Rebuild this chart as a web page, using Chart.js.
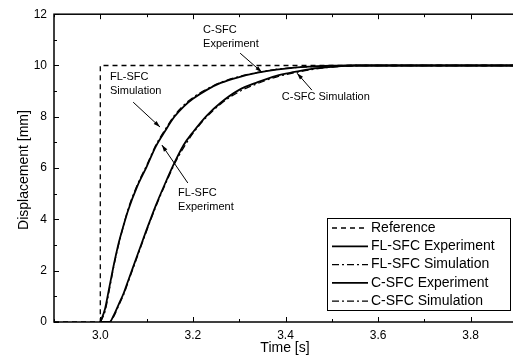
<!DOCTYPE html>
<html>
<head>
<meta charset="utf-8">
<script src="https://cdn.jsdelivr.net/npm/chart.js@4"></script>
<style>
  html, body { margin: 0; padding: 0; background: #fff; overflow: hidden; }
  #wrap { width: 518px; height: 358px; }
</style>
</head>
<body>
<div id="wrap"><canvas id="chart" width="518" height="358"></canvas></div>
<script>
// values
const refTime = [2.9, 3.0, 3.0, 3.9];
const refValues = [0, 0, 10, 10];

const time = [3.00, 3.01, 3.02, 3.03, 3.04, 3.05, 3.06, 3.08, 3.10, 3.12, 3.14, 3.16, 3.18, 3.20,
              3.23, 3.26, 3.30, 3.34, 3.38, 3.42, 3.46, 3.50, 3.55, 3.60, 3.70, 3.80, 3.90];
const flExperiment = [0, 0.5, 1.4, 2.3, 3.1, 3.75, 4.35, 5.3, 6.05, 6.85, 7.45, 8.0, 8.4, 8.7,
                      9.05, 9.32, 9.55, 9.72, 9.84, 9.92, 9.96, 9.99, 10, 10, 10, 10, 10];
const flSimulation = [0, 0.4, 1.3, 2.25, 3.05, 3.75, 4.4, 5.35, 6.1, 6.9, 7.5, 8.05, 8.45, 8.75,
                      9.08, 9.34, 9.57, 9.73, 9.85, 9.92, 9.96, 9.99, 10, 10, 10, 10, 10];
const cExperiment = [0, 0, 0, 0.3, 0.7, 1.1, 1.6, 2.6, 3.6, 4.55, 5.4, 6.2, 6.9, 7.4,
                     8.05, 8.55, 9.05, 9.35, 9.6, 9.75, 9.88, 9.95, 10, 10, 10, 10, 10];
const cSimulation = [0, 0, 0, 0.25, 0.65, 1.05, 1.55, 2.55, 3.55, 4.5, 5.35, 6.15, 6.8, 7.35,
                     8.0, 8.5, 8.98, 9.3, 9.55, 9.72, 9.85, 9.94, 9.99, 10, 10, 10, 10];

const xTicks = [3.0, 3.2, 3.4, 3.6, 3.8];
const xMinor = [2.9, 3.1, 3.3, 3.5, 3.7, 3.9];
const yTicks = [0, 2, 4, 6, 8, 10, 12];
const yMinor = [1, 3, 5, 7, 9, 11];

const labels = ['Reference', 'FL-SFC Experiment', 'FL-SFC Simulation', 'C-SFC Experiment', 'C-SFC Simulation'];

// callouts: text lines at [t, y], arrow from -> to
const callouts = [
  { lines: ['C-SFC', 'Experiment'], at: [3.222, 11.38], from: [3.302, 10.48], to: [3.349, 9.74] },
  { lines: ['FL-SFC', 'Simulation'], at: [3.021, 9.55], from: [3.071, 8.57], to: [3.129, 7.6] },
  { lines: ['C-SFC Simulation'], at: [3.392, 8.77], from: [3.457, 9.04], to: [3.425, 9.70] },
  { lines: ['FL-SFC', 'Experiment'], at: [3.168, 5.03], from: [3.189, 5.42], to: [3.133, 6.9] }
];

const FONT = '"Liberation Sans", Arial, sans-serif';
const dashRef = [5, 4];
const dashSim = [7, 3, 2, 3];

function pts(xs, ys) {
  return xs.map((x, i) => ({ x: x, y: ys[i] }));
}

const seriesStyle = [
  { data: pts(refTime, refValues), dash: dashRef, width: 1.3, tension: 0 },
  { data: pts(time, flExperiment), dash: [], width: 1.8 },
  { data: pts(time, flSimulation), dash: dashSim, width: 1.3 },
  { data: pts(time, cExperiment), dash: [], width: 1.8 },
  { data: pts(time, cSimulation), dash: dashSim, width: 1.3 }
];

const datasets = seriesStyle.map((s, i) => ({
  label: labels[i],
  data: s.data,
  borderColor: '#000',
  borderWidth: s.width,
  borderDash: s.dash,
  pointRadius: 0,
  fill: false,
  cubicInterpolationMode: i === 0 ? 'default' : 'monotone',
  tension: 0
}));

const decorations = {
  id: 'decorations',
  afterDraw(chart) {
    const ctx = chart.ctx;
    const xs = chart.scales.x, ys = chart.scales.y;
    const a = chart.chartArea;
    ctx.save();

    // frame
    ctx.strokeStyle = '#000';
    ctx.lineWidth = 1.5;
    ctx.setLineDash([]);
    ctx.strokeRect(a.left, a.top, a.right - a.left, a.bottom - a.top);

    // inward ticks
    ctx.lineWidth = 1;
    ctx.beginPath();
    xTicks.forEach(v => {
      const px = Math.round(xs.getPixelForValue(v)) + 0.5;
      ctx.moveTo(px, a.bottom); ctx.lineTo(px, a.bottom - 5);
      ctx.moveTo(px, a.top); ctx.lineTo(px, a.top + 5);
    });
    xMinor.forEach(v => {
      const px = Math.round(xs.getPixelForValue(v)) + 0.5;
      ctx.moveTo(px, a.bottom); ctx.lineTo(px, a.bottom - 3);
      ctx.moveTo(px, a.top); ctx.lineTo(px, a.top + 3);
    });
    yTicks.forEach(v => {
      const py = Math.round(ys.getPixelForValue(v)) + 0.5;
      ctx.moveTo(a.left, py); ctx.lineTo(a.left + 5, py);
    });
    yMinor.forEach(v => {
      const py = Math.round(ys.getPixelForValue(v)) + 0.5;
      ctx.moveTo(a.left, py); ctx.lineTo(a.left + 3, py);
    });
    ctx.stroke();

    // axis titles
    ctx.fillStyle = '#000';
    ctx.font = '14px ' + FONT;
    ctx.textAlign = 'center';
    ctx.textBaseline = 'middle';
    ctx.fillText('Time [s]', 285, 348);
    ctx.save();
    ctx.translate(24, 170);
    ctx.rotate(-Math.PI / 2);
    ctx.fillText('Displacement [mm]', 0, 0);
    ctx.restore();

    // callouts
    ctx.font = '11px ' + FONT;
    ctx.textAlign = 'left';
    callouts.forEach(c => {
      const tx = xs.getPixelForValue(c.at[0]);
      const ty = ys.getPixelForValue(c.at[1]);
      c.lines.forEach((ln, k) => ctx.fillText(ln, tx, ty + k * 14));
      const x1 = xs.getPixelForValue(c.from[0]), y1 = ys.getPixelForValue(c.from[1]);
      const x2 = xs.getPixelForValue(c.to[0]), y2 = ys.getPixelForValue(c.to[1]);
      ctx.lineWidth = 1;
      ctx.beginPath();
      ctx.moveTo(x1, y1); ctx.lineTo(x2, y2);
      ctx.stroke();
      const ang = Math.atan2(y2 - y1, x2 - x1);
      ctx.beginPath();
      ctx.moveTo(x2, y2);
      ctx.lineTo(x2 - 7 * Math.cos(ang - 0.3), y2 - 7 * Math.sin(ang - 0.3));
      ctx.lineTo(x2 - 7 * Math.cos(ang + 0.3), y2 - 7 * Math.sin(ang + 0.3));
      ctx.closePath();
      ctx.fill();
    });

    // legend box
    const bx = 327, by = 218, bw = 183, bh = 92;
    ctx.fillStyle = '#fff';
    ctx.fillRect(bx, by, bw, bh);
    ctx.lineWidth = 1;
    ctx.strokeRect(bx + 0.5, by + 0.5, bw, bh);
    ctx.font = '14px ' + FONT;
    ctx.fillStyle = '#000';
    ctx.textBaseline = 'middle';
    chart.data.datasets.forEach((ds, i) => {
      const cy = by + 10 + i * 18.3;
      ctx.setLineDash(ds.borderDash);
      ctx.lineWidth = ds.borderWidth;
      ctx.beginPath();
      ctx.moveTo(bx + 5, cy); ctx.lineTo(bx + 41, cy);
      ctx.stroke();
      ctx.setLineDash([]);
      ctx.fillText(ds.label, bx + 44, cy);
    });
    ctx.restore();
  }
};

new Chart(document.getElementById('chart'), {
  type: 'line',
  data: { datasets: datasets },
  plugins: [decorations],
  options: {
    responsive: false,
    animation: false,
    layout: { padding: { top: 14, right: 1, left: 0, bottom: 0 } },
    plugins: { legend: { display: false }, tooltip: { enabled: false } },
    scales: {
      x: {
        type: 'linear',
        min: 2.9,
        max: 3.9,
        afterFit: s => { s.height = 36; },
        afterBuildTicks: s => { s.ticks = xTicks.map(v => ({ value: v })); },
        grid: { display: false, drawTicks: false },
        border: { display: false },
        ticks: {
          color: '#000',
          font: { family: FONT, size: 12 },
          padding: 6,
          maxRotation: 0,
          callback: v => v.toFixed(1)
        }
      },
      y: {
        type: 'linear',
        min: 0,
        max: 12,
        afterFit: s => { s.width = 54; },
        afterBuildTicks: s => { s.ticks = yTicks.map(v => ({ value: v })); },
        grid: { display: false, drawTicks: false },
        border: { display: false },
        ticks: {
          color: '#000',
          font: { family: FONT, size: 12 },
          padding: 7,
          callback: v => String(v)
        }
      }
    }
  }
});
</script>
</body>
</html>
